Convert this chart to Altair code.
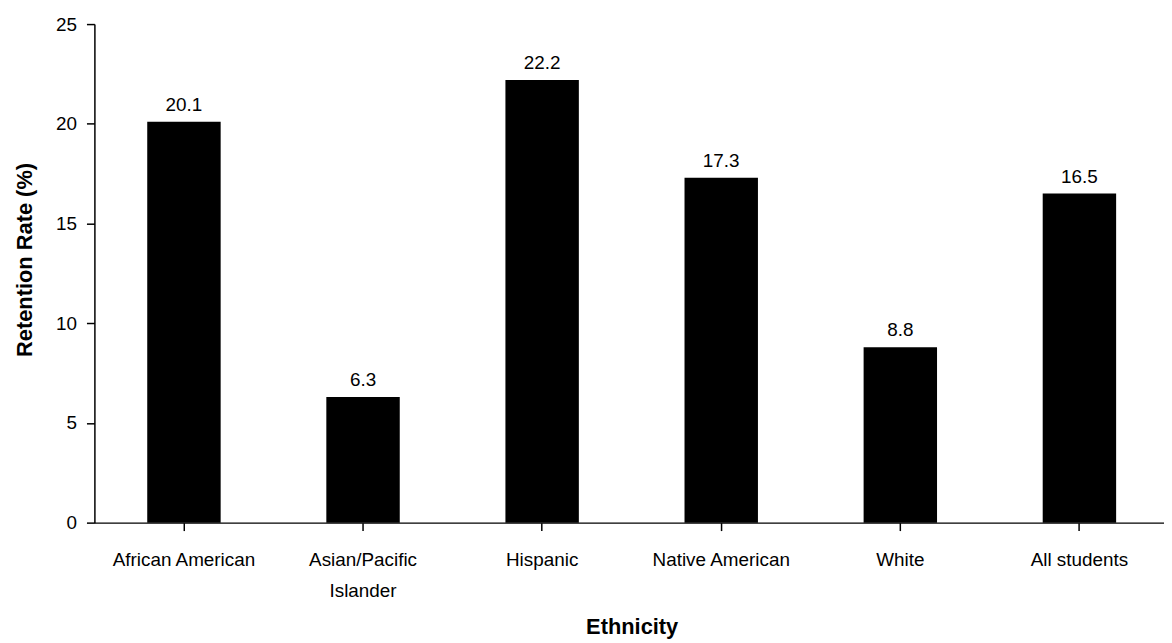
import altair as alt
import pandas as pd

categories = ["African American", "Asian/Pacific Islander", "Hispanic",
              "Native American", "White", "All students"]
values = [20.1, 6.3, 22.2, 17.3, 8.8, 16.5]

df = pd.DataFrame({"Ethnicity": categories, "Rate": values})

FONT = "Liberation Sans"

xscale = alt.Scale(paddingInner=0, paddingOuter=0, round=False)

x = alt.X(
    "Ethnicity:N",
    sort=categories,
    scale=xscale,
    axis=alt.Axis(
        title="Ethnicity",
        labelAngle=0,
        tickSize=8,
        tickWidth=1.5,
        domainWidth=1.5,
        domainColor="black",
        tickColor="black",
        labelPadding=20,
        labelLineHeight=31,
        labelFontSize=19,
        labelFont=FONT,
        labelColor="black",
        labelExpr="datum.label == 'Asian/Pacific Islander' ? ['Asian/Pacific', 'Islander'] : datum.label",
        titleFont=FONT,
        titleFontSize=22,
        titleFontWeight="bold",
        titleColor="black",
        titleBaseline="alphabetic",
        titleY=112,
        titleX=541,
        grid=False,
    ),
)

y = alt.Y(
    "Rate:Q",
    scale=alt.Scale(domain=[0, 25], nice=False),
    axis=alt.Axis(
        title="Retention Rate (%)",
        values=[0, 5, 10, 15, 20, 25],
        tickSize=8,
        tickWidth=1.5,
        domainWidth=1.5,
        domainColor="black",
        tickColor="black",
        labelPadding=10,
        labelFontSize=19,
        labelFont=FONT,
        labelColor="black",
        titleFont=FONT,
        titleFontSize=22,
        titleFontWeight="bold",
        titleColor="black",
        titleBaseline="alphabetic",
        titleX=-63,
        titleY=237,
        grid=False,
    ),
)

bars = alt.Chart(df).mark_bar(
    color="black", width=alt.RelativeBandSize(0.41)
).encode(x=x, y=y)

labels = alt.Chart(df).mark_text(
    dy=-17, font=FONT, fontSize=19, color="black"
).encode(
    x=alt.X("Ethnicity:N", sort=categories, scale=xscale),
    y=alt.Y("Rate:Q"),
    text=alt.Text("Rate:Q", format=".1f"),
)

chart = (
    alt.layer(bars, labels)
    .properties(
        width=1082,
        height=502,
        padding={"left": 87, "top": 14, "right": -5, "bottom": 118},
        autosize="none",
    )
    .configure_view(stroke=None)
)

chart.save("out.html", embed_options={"renderer": "svg", "actions": False})
